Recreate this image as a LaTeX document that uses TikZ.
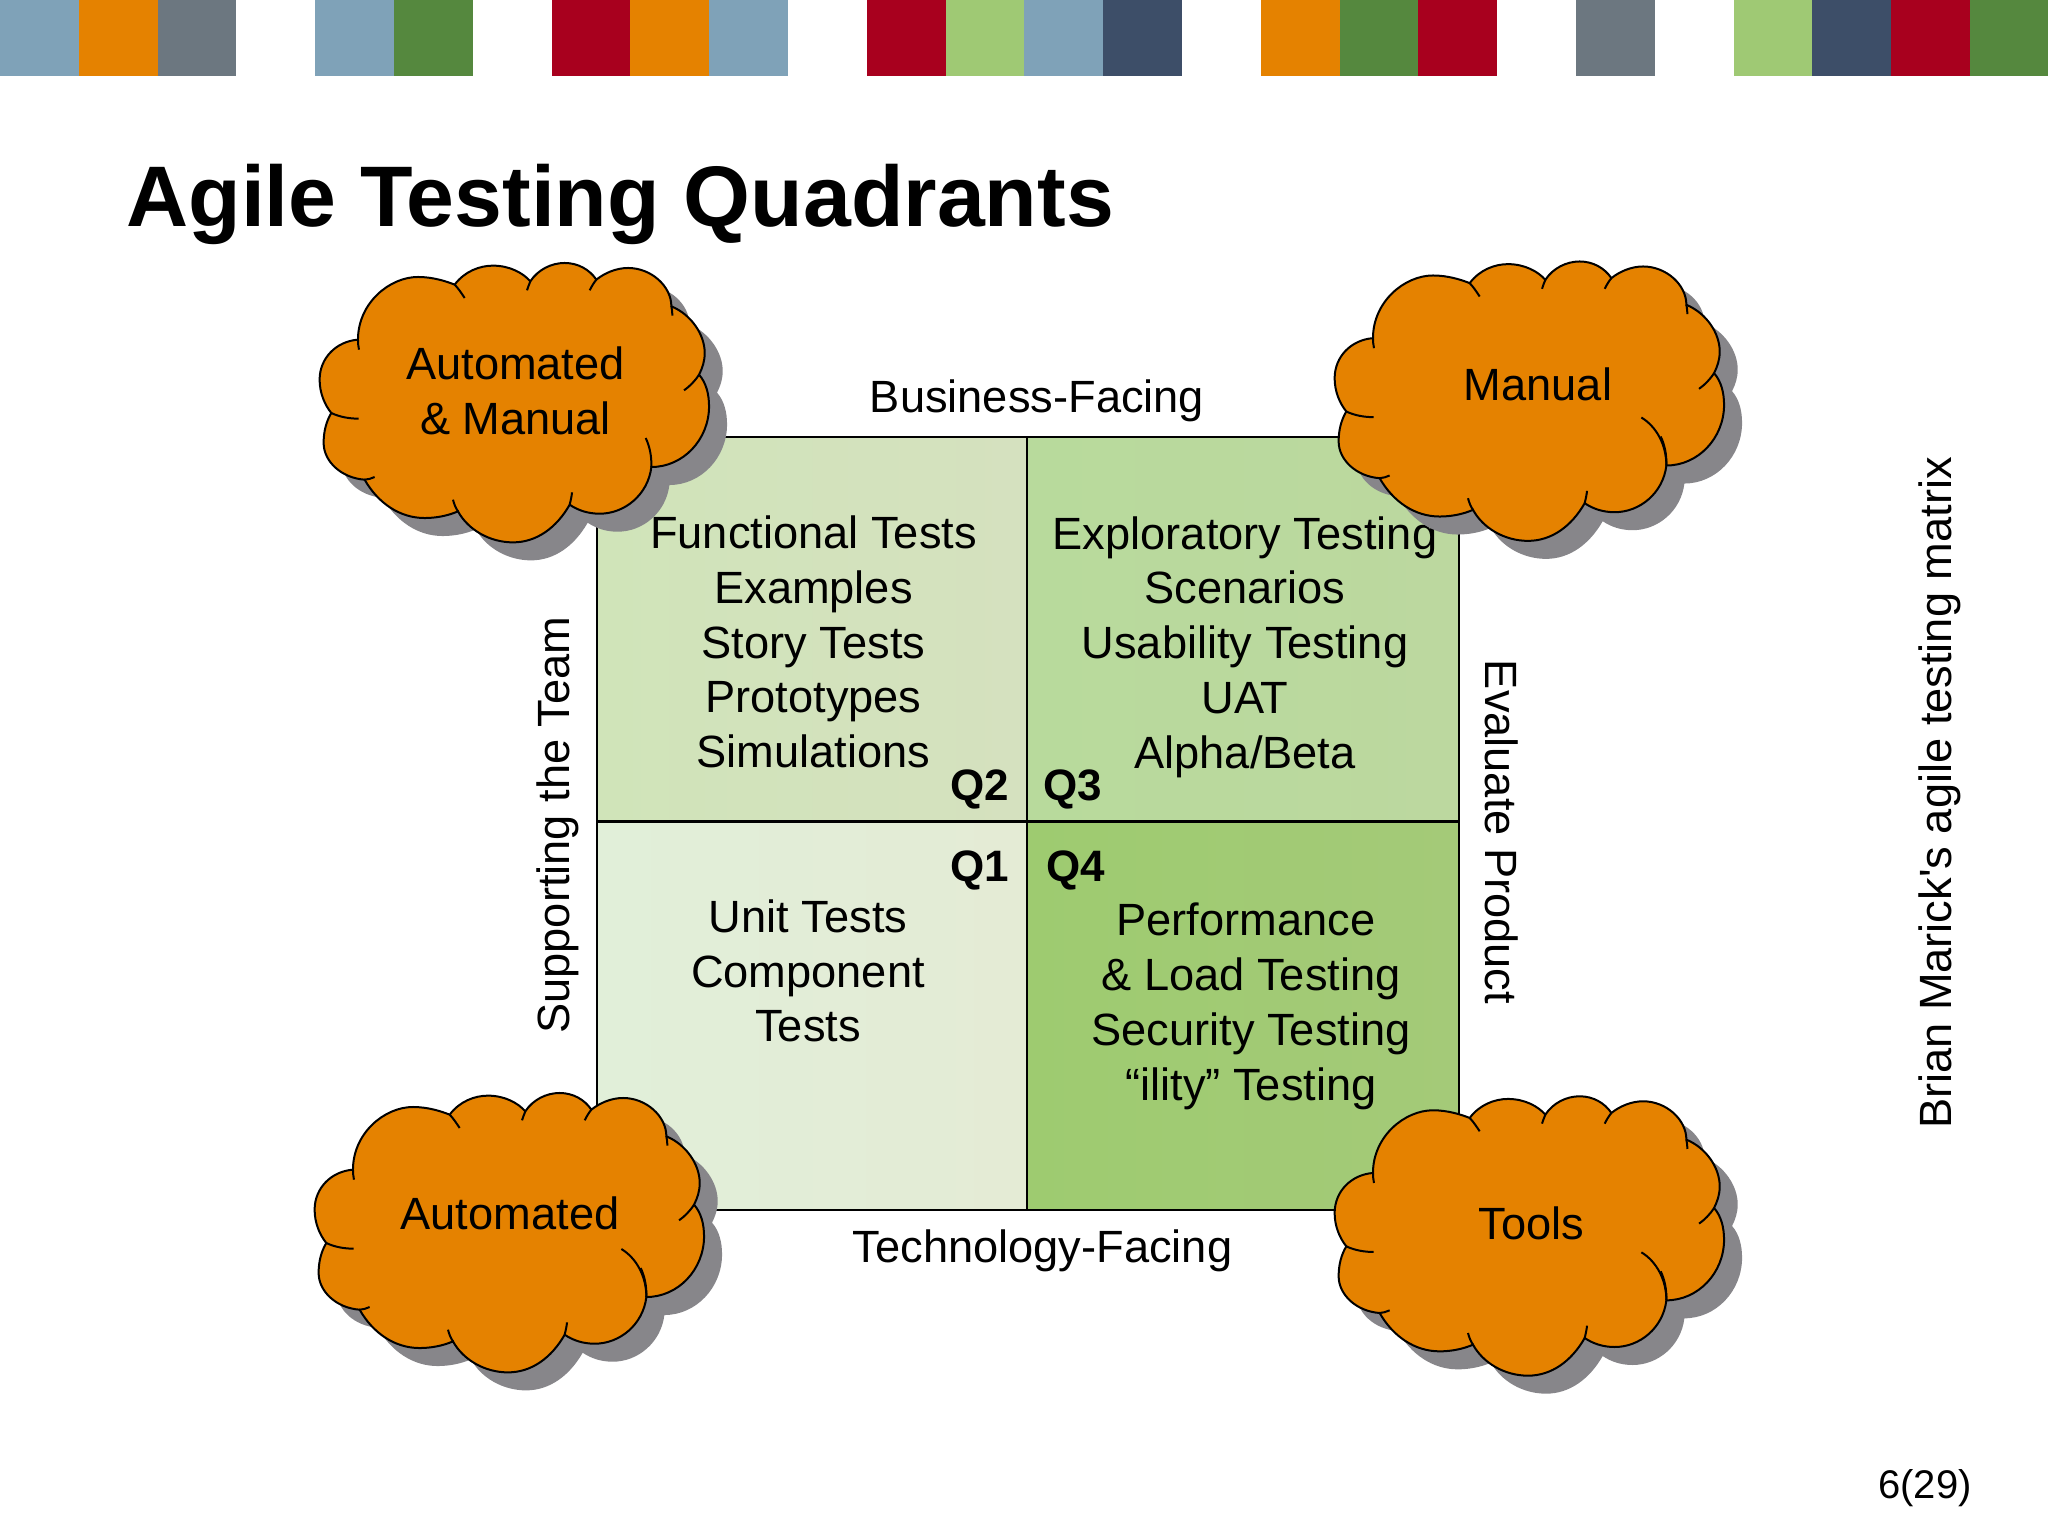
\documentclass[tikz,border=0pt]{standalone}
\usepackage{fontspec}
\setmainfont{Liberation Sans}
\newfontfamily\plainquote{Liberation Sans}
\usepackage{xcolor}
\definecolor{strip-blue}{HTML}{7FA2B8}
\definecolor{strip-orange}{HTML}{E58200}
\definecolor{strip-slate}{HTML}{6C7780}
\definecolor{strip-green}{HTML}{55883E}
\definecolor{strip-red}{HTML}{A8001E}
\definecolor{strip-lime}{HTML}{9FC974}
\definecolor{strip-navy}{HTML}{3D4E68}
\definecolor{cloud-shadow}{HTML}{87868A}
\definecolor{quad-one-a}{HTML}{E1EFD9}
\definecolor{quad-one-b}{HTML}{E4EBD5}
\definecolor{quad-two-a}{HTML}{D0E4B9}
\definecolor{quad-two-b}{HTML}{D5E1BF}
\definecolor{quad-three-a}{HTML}{B8DA9C}
\definecolor{quad-three-b}{HTML}{BCD89F}
\definecolor{quad-four-a}{HTML}{9ECB70}
\definecolor{quad-four-b}{HTML}{A4CA78}
\newcommand{\cloudoutline}{
    (205,300) .. controls (205,190) and (300,112) .. (385,112)
    .. controls (430,112) and (470,125) .. (495,135)
    .. controls (525,95) and (570,78) .. (610,78)
    .. controls (660,78) and (700,100) .. (722,125)
    .. controls (745,90) and (785,70) .. (825,70)
    .. controls (865,70) and (900,90) .. (920,120)
    .. controls (945,100) and (980,85) .. (1015,85)
    .. controls (1085,85) and (1145,140) .. (1145,200)
    .. controls (1205,225) and (1245,285) .. (1245,340)
    .. controls (1245,365) and (1238,385) .. (1228,405)
    .. controls (1250,430) and (1258,465) .. (1258,500)
    .. controls (1258,600) and (1180,682) .. (1085,682)
    .. controls (1075,765) and (1005,822) .. (930,822)
    .. controls (895,822) and (865,812) .. (840,795)
    .. controls (800,865) and (740,908) .. (670,908)
    .. controls (600,908) and (535,870) .. (505,815)
    .. controls (475,828) and (440,835) .. (405,835)
    .. controls (330,835) and (265,790) .. (225,720)
    .. controls (155,715) and (102,665) .. (102,610)
    .. controls (102,575) and (110,545) .. (125,520)
    .. controls (105,495) and (90,460) .. (90,420)
    .. controls (90,355) and (140,305) .. (205,300)
    -- cycle
}
\tikzset{
    quad/.style = {draw=black, line width=1pt, rectangle, inner sep=0pt, outer sep=0pt, anchor=north west},
    body-text/.style = {align=center, font=\fontsize{22.6}{27.4}\selectfont, text=black},
    quad-label/.style = {font=\fontsize{22}{27.4}\selectfont\bfseries, text=black},
    cloud-shape/.pic = {
        \begin{scope}[x=0.1667pt, y=-0.1667pt, shift={(-670,-490)}]
        \fill[cloud-shadow, shift={(54,54)}] \cloudoutline;
        \filldraw[fill=strip-orange, draw=black, line width=1pt, line join=miter] \cloudoutline;
        \draw[black, line width=1pt]
            (495,135) .. controls (505,145) and (515,160) .. (525,175)
            (722,125) .. controls (718,135) and (714,145) .. (712,152)
            (920,120) .. controls (912,130) and (906,140) .. (900,152)
            (1145,200) .. controls (1147,210) and (1148,220) .. (1148,228)
            (1228,405) .. controls (1215,425) and (1200,440) .. (1183,452)
            (1085,682) .. controls (1086,650) and (1080,620) .. (1068,595)
            (840,795) .. controls (843,782) and (846,770) .. (847,758)
            (505,815) .. controls (498,805) and (493,792) .. (490,780)
            (225,720) .. controls (235,720) and (245,716) .. (255,712)
            (125,520) .. controls (150,532) and (180,537) .. (207,537)
            (205,300) .. controls (205,310) and (206,320) .. (208,330);
        \end{scope}
    },
    cloud-tick/.pic = {
        \draw[black, line width=1pt, x=0.1667pt, y=-0.1667pt, shift={(-670,-490)}]
            (1085,682) .. controls (1085,620) and (1055,565) .. (1010,538);
    },
}
\begin{document}
\begin{tikzpicture}[x=0.5pt, y=-0.5pt]
\useasboundingbox (0,0) rectangle (2048,1536);
% colour strips along the top
\foreach \pos/\col in {0/strip-blue, 1/strip-orange, 2/strip-slate, 4/strip-blue, 5/strip-green,
    7/strip-red, 8/strip-orange, 9/strip-blue, 11/strip-red, 12/strip-lime, 13/strip-blue, 14/strip-navy,
    16/strip-orange, 17/strip-green, 18/strip-red, 20/strip-slate, 22/strip-lime, 23/strip-navy,
    24/strip-red, 25/strip-green}
    \fill[\col] (\pos*78.8,0) rectangle ++(78.8,76);

\node [anchor=base west, inner sep=0pt, font=\fontsize{43}{48}\selectfont\bfseries] (title) at (126,226) {Agile Testing Quadrants};

% quadrants
\node [quad, left color=quad-two-a, right color=quad-two-b, minimum width=215pt, minimum height=192pt] (q2) at (597,437.3) {};
\node [quad, left color=quad-three-a, right color=quad-three-b, minimum width=216pt, minimum height=192pt] (q3) at (1027,437.3) {};
\node [quad, left color=quad-one-a, right color=quad-one-b, minimum width=215pt, minimum height=194pt] (q1) at (597,821.5) {};
\node [quad, left color=quad-four-a, right color=quad-four-b, minimum width=216pt, minimum height=194pt] (q4) at (1027,821.5) {};

\node [body-text] (q2-text) at (813.5,642) {Functional Tests\\Examples\\Story Tests\\Prototypes\\Simulations};
\node [body-text] (q3-text) at (1245,647) {Exploratory Testing\\Scenarios\\Usability Testing\\UAT\\Alpha/Beta};
\node [body-text] (q1-text) at (808,971) {Unit Tests\\Component\\Tests};
\node [body-text] (q4-text) at (1251,1006.5) {Performance\hspace{5pt}\mbox{}\\\& Load Testing\\Security Testing\\“ility” Testing};

\node [quad-label] (q2-label) at (980,789) {Q2};
\node [quad-label] (q3-label) at (1073,789) {Q3};
\node [quad-label] (q1-label) at (980,870) {Q1};
\node [quad-label] (q4-label) at (1076,870) {Q4};

\node [body-text] (top-label) at (1037,400.6) {Business-Facing};
\node [body-text] (bottom-label) at (1042.5,1250.6) {Technology-Facing};
\node [body-text, rotate=90] (left-label) at (557.6,825) {Supporting the Team};
\node [body-text, rotate=-90] (right-label) at (1502,832) {Evaluate Product};
\node [body-text, rotate=90] (side-label) at (1940,793) {Brian Marick{\plainquote '}s agile testing matrix};
\node [font=\fontsize{20}{24}\selectfont] (page-number) at (1925,1488) {6(29)};

% clouds
\pic at (513,403) {cloud-shape};
\pic at (1528,401.5) {cloud-shape};
\pic at (1528,401.5) {cloud-tick};
\pic at (508,1233) {cloud-shape};
\pic at (508,1233) {cloud-tick};
\pic at (1528,1236.3) {cloud-shape};
\pic at (1528,1236.3) {cloud-tick};

\node [body-text] (cloud-both) at (515.5,391) {Automated\\\& Manual};
\node [body-text] (cloud-manual) at (1538,384) {Manual};
\node [body-text] (cloud-auto) at (510,1213) {Automated};
\node [body-text] (cloud-tools) at (1531.5,1223) {Tools};
\end{tikzpicture}
\end{document}
